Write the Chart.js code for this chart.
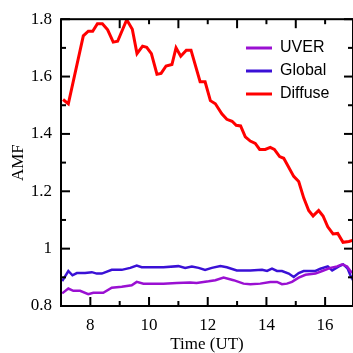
<!DOCTYPE html>
<html>
<head>
<meta charset="utf-8">
<script src="https://cdn.jsdelivr.net/npm/chart.js@4/dist/chart.umd.min.js"></script>
<style>
  body { margin: 0; background: #fff; }
  canvas { display: block; }
</style>
</head>
<body>
<canvas id="amf" width="353" height="353"></canvas>
<script>
// values
const seriesNames = ['UVER', 'Global', 'Diffuse']

const uverTime = [7.04, 7.25, 7.42, 7.65, 7.93, 8.1, 8.44, 8.73, 9.07, 9.41, 9.58, 9.81, 10.04, 10.49, 10.94, 11.4, 11.62, 12.03, 12.26, 12.54, 12.88, 13.22, 13.45, 13.79, 14.13, 14.36, 14.53, 14.7, 14.87, 15.1, 15.33, 15.67, 15.9, 16.18, 16.41, 16.58, 16.75, 16.86, 16.95]
const uverAMF = [0.844, 0.861, 0.853, 0.853, 0.841, 0.846, 0.846, 0.864, 0.867, 0.872, 0.884, 0.878, 0.878, 0.878, 0.88, 0.882, 0.88, 0.886, 0.89, 0.899, 0.89, 0.878, 0.876, 0.878, 0.884, 0.884, 0.876, 0.878, 0.884, 0.899, 0.909, 0.913, 0.922, 0.933, 0.938, 0.945, 0.938, 0.922, 0.915]

const globalTime = [7.04, 7.25, 7.39, 7.54, 7.82, 8.05, 8.22, 8.39, 8.73, 9.07, 9.36, 9.58, 9.75, 10.04, 10.49, 11.0, 11.23, 11.46, 11.69, 11.91, 12.14, 12.43, 12.65, 12.99, 13.45, 13.85, 14.02, 14.19, 14.36, 14.53, 14.76, 14.93, 15.1, 15.27, 15.67, 15.84, 16.09, 16.24, 16.47, 16.62, 16.77, 16.86, 16.95]
const globalAMF = [0.887, 0.922, 0.907, 0.915, 0.915, 0.918, 0.913, 0.913, 0.926, 0.926, 0.933, 0.941, 0.935, 0.935, 0.935, 0.939, 0.933, 0.938, 0.933, 0.926, 0.933, 0.939, 0.935, 0.924, 0.924, 0.926, 0.922, 0.93, 0.922, 0.922, 0.913, 0.901, 0.915, 0.922, 0.922, 0.93, 0.938, 0.924, 0.938, 0.945, 0.93, 0.907, 0.89]

const diffuseTime = [7.07, 7.25, 7.76, 7.93, 8.08, 8.24, 8.41, 8.59, 8.78, 8.93, 9.24, 9.43, 9.59, 9.78, 9.92, 10.08, 10.27, 10.41, 10.58, 10.78, 10.92, 11.08, 11.27, 11.43, 11.74, 11.91, 12.09, 12.26, 12.48, 12.65, 12.83, 12.97, 13.12, 13.28, 13.45, 13.62, 13.77, 13.96, 14.13, 14.27, 14.45, 14.59, 14.93, 15.1, 15.27, 15.44, 15.59, 15.78, 15.93, 16.09, 16.27, 16.43, 16.61, 16.81, 16.98]
const diffuseAMF = [1.52, 1.505, 1.742, 1.758, 1.758, 1.784, 1.784, 1.763, 1.72, 1.723, 1.798, 1.765, 1.68, 1.706, 1.702, 1.68, 1.608, 1.611, 1.637, 1.642, 1.7, 1.671, 1.692, 1.692, 1.582, 1.582, 1.516, 1.505, 1.47, 1.451, 1.444, 1.43, 1.428, 1.39, 1.375, 1.367, 1.346, 1.346, 1.353, 1.346, 1.321, 1.315, 1.252, 1.234, 1.177, 1.133, 1.114, 1.133, 1.114, 1.076, 1.051, 1.053, 1.022, 1.025, 1.03]

const xLabels = [8, 10, 12, 14, 16]
const xMinor = [9, 11, 13, 15]
const topMajor = [9, 11, 13, 15]
const topMinor = [10, 12, 14, 16]
const yLabels = [0.8, 1, 1.2, 1.4, 1.6, 1.8]
const yMinor = [0.9, 1.1, 1.3, 1.5, 1.7]

const colors = ['#9a10d2', '#3a10d6', '#ff0000']
const widths = [2.5, 2.5, 3]

const toPoints = (xs, ys) => xs.map((x, i) => ({ x: x, y: ys[i] }))
const allTimes = [uverTime, globalTime, diffuseTime]
const allAMF = [uverAMF, globalAMF, diffuseAMF]

const serif = 'Liberation Serif, Times New Roman, serif'

// frame, inside ticks and the legend
const framePlugin = {
  id: 'frame',
  afterDraw(chart) {
    const ctx = chart.ctx
    const { left, right, top, bottom } = chart.chartArea
    const xs = chart.scales.x
    const ys = chart.scales.y
    ctx.save()
    ctx.strokeStyle = '#000'
    ctx.lineWidth = 2
    ctx.strokeRect(left, top, right - left, bottom - top)

    const line = (x1, y1, x2, y2) => {
      ctx.beginPath()
      ctx.moveTo(x1, y1)
      ctx.lineTo(x2, y2)
      ctx.stroke()
    }
    const big = 9, small = 5
    xLabels.forEach(v => { const p = xs.getPixelForValue(v); line(p, bottom, p, bottom - big) })
    xMinor.forEach(v => { const p = xs.getPixelForValue(v); line(p, bottom, p, bottom - small) })
    topMajor.forEach(v => { const p = xs.getPixelForValue(v); line(p, top, p, top + big) })
    topMinor.forEach(v => { const p = xs.getPixelForValue(v); line(p, top, p, top + small) })
    yLabels.forEach(v => {
      const p = ys.getPixelForValue(v)
      line(left, p, left + big, p)
      line(right, p, right - big, p)
    })
    yMinor.forEach(v => {
      const p = ys.getPixelForValue(v)
      line(left, p, left + small, p)
      line(right, p, right - small, p)
    })

    // legend
    ctx.font = '16px Liberation Sans, Arial, sans-serif'
    ctx.textBaseline = 'middle'
    ctx.fillStyle = '#000'
    chart.data.datasets.forEach((ds, i) => {
      const y = 48 + i * 23
      ctx.strokeStyle = ds.borderColor
      ctx.lineWidth = 3
      line(246, y, 272, y)
      ctx.fillText(ds.label, 280, y)
    })
    ctx.restore()
  }
}

new Chart(document.getElementById('amf'), {
  type: 'line',
  data: {
    datasets: seriesNames.map((name, i) => ({
      label: name,
      data: toPoints(allTimes[i], allAMF[i]),
      borderColor: colors[i],
      backgroundColor: colors[i],
      borderWidth: widths[i],
      pointRadius: 0,
      tension: 0,
      fill: false
    }))
  },
  options: {
    responsive: false,
    animation: false,
    layout: { padding: { top: 16, right: 0, left: 0, bottom: 0 } },
    plugins: {
      legend: { display: false },
      tooltip: { enabled: false }
    },
    scales: {
      x: {
        type: 'linear',
        min: 7,
        max: 16.95,
        afterFit: s => { s.height = 47 },
        afterBuildTicks: s => { s.ticks = xLabels.map(v => ({ value: v })) },
        grid: { display: false, drawTicks: false },
        border: { display: false },
        ticks: { color: '#000', padding: 9, maxRotation: 0, font: { family: serif, size: 17 } },
        title: { display: true, text: 'Time (UT)', color: '#000', padding: { top: 0, bottom: 0 }, font: { family: serif, size: 17, lineHeight: 1 } }
      },
      y: {
        type: 'linear',
        min: 0.8,
        max: 1.8,
        afterFit: s => { s.width = 61 },
        afterBuildTicks: s => { s.ticks = yLabels.map(v => ({ value: v })) },
        grid: { display: false, drawTicks: false },
        border: { display: false },
        ticks: {
          color: '#000',
          padding: 9,
          font: { family: serif, size: 17 },
          callback: v => String(Number(v.toFixed(1)))
        },
        title: { display: true, text: 'AMF', color: '#000', padding: { top: 8, bottom: 0 }, font: { family: serif, size: 17 } }
      }
    }
  },
  plugins: [framePlugin]
})
</script>
</body>
</html>
